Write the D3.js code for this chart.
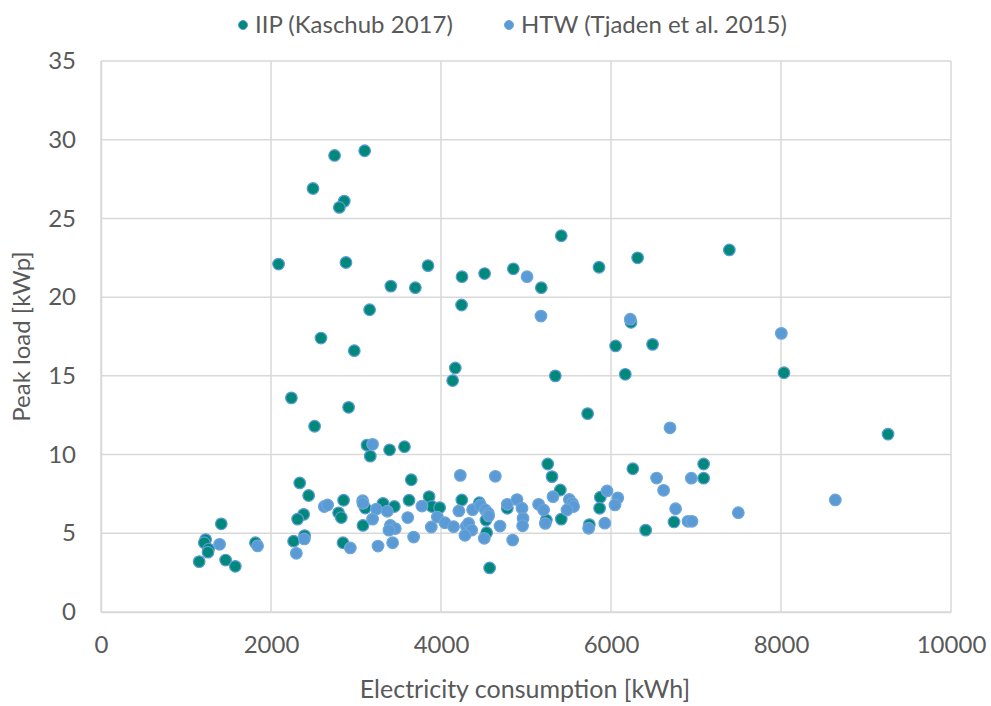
<!DOCTYPE html>
<html>
<head>
<meta charset="utf-8">
<script src="https://cdn.jsdelivr.net/npm/d3@7"></script>
<style>
  body { margin: 0; background: #fff; }
  svg text { font-family: Lato, "Open Sans", sans-serif; fill: #595959; }
</style>
</head>
<body>
<svg id="chart" width="991" height="706"></svg>
<script>
// series names
const seriesNames = ["IIP (Kaschub 2017)", "HTW (Tjaden et al. 2015)"];

// IIP (Kaschub 2017): [kWh, kWp]
const iipPoints = [
  [2748, 29.0], [3102, 29.3], [2494, 26.9], [2862, 26.1], [2804, 25.7], [2089, 22.1],
  [2882, 22.2], [3410, 20.7], [3160, 19.2], [2588, 17.4], [2980, 16.6],
  [3698, 20.6], [3847, 22.0], [4247, 21.3], [4513, 21.5], [4851, 21.8], [5180, 20.6],
  [5415, 23.9], [5859, 21.9], [6313, 22.5], [4242, 19.5], [6235, 18.4], [6054, 16.9],
  [6489, 17.0], [4168, 15.5], [4137, 14.7], [5345, 15.0], [6168, 15.1], [5725, 12.6],
  [7392, 23.0], [8035, 15.2], [9259, 11.3], [7090, 9.4], [7090, 8.5],
  [2240, 13.6], [2913, 13.0], [2513, 11.8], [3130, 10.6], [3168, 9.9], [3395, 10.3], [3570, 10.5],
  [1415, 5.6], [1231, 4.6], [1215, 4.4], [1266, 4.0], [1259, 3.8], [1155, 3.2], [1466, 3.3],
  [1580, 2.9], [1817, 4.4],
  [2338, 8.2], [2443, 7.4], [2384, 6.2], [2313, 5.9], [2854, 7.1], [2795, 6.3], [2827, 6.0],
  [3109, 6.6], [3318, 6.9], [3451, 6.7], [3082, 5.5], [3624, 7.1], [3650, 8.4], [2266, 4.5],
  [2395, 4.85], [2847, 4.4],
  [3860, 7.33], [3894, 6.7], [3984, 6.63], [4245, 7.12], [4451, 6.94], [4529, 5.84],
  [4537, 5.04], [4780, 6.59], [4572, 2.8],
  [5256, 9.4], [5306, 8.6], [5404, 7.75], [5239, 5.84], [5415, 5.9], [5745, 5.55],
  [5874, 7.29], [5866, 6.59], [6257, 9.1], [6408, 5.2], [6741, 5.72]
];

// HTW (Tjaden et al. 2015): [kWh, kWp]
const htwPoints = [
  [5012, 21.3], [5176, 18.8], [6227, 18.6], [8004, 17.7], [6694, 11.7], [3195, 10.65],
  [1395, 4.3], [1842, 4.2],
  [2627, 6.7], [2666, 6.8], [3078, 7.07], [3082, 6.9], [3239, 6.54], [3368, 6.4], [3195, 5.9],
  [3404, 5.5], [3462, 5.3], [3388, 5.2], [3609, 6.0], [2392, 4.64], [2298, 3.73], [2933, 4.07],
  [3259, 4.19], [3431, 4.4], [3678, 4.76],
  [3776, 6.73], [3886, 5.4], [3957, 6.03], [4046, 5.67], [4148, 5.42], [4227, 8.68], [4639, 8.62],
  [4210, 6.42], [4298, 5.45], [4325, 5.63], [4360, 5.2], [4282, 4.87], [4372, 6.5], [4462, 6.8],
  [4521, 6.48], [4556, 6.27], [4560, 6.1], [4509, 4.68], [4694, 5.46], [4780, 6.84], [4894, 7.14],
  [4953, 6.59], [4965, 5.95], [4960, 5.48], [4843, 4.57],
  [5148, 6.84], [5207, 6.48], [5227, 5.63], [5318, 7.33], [5510, 7.15], [5545, 6.9], [5560, 6.7],
  [5482, 6.48], [5737, 5.32], [5953, 7.69], [5927, 5.64], [6080, 7.25], [6047, 6.8],
  [6536, 8.51], [6619, 7.73], [6945, 8.5], [6760, 6.56], [6906, 5.76], [6953, 5.76],
  [7498, 6.31], [8639, 7.12]
];

const xTicks = [0, 2000, 4000, 6000, 8000, 10000];
const yTicks = [0, 5, 10, 15, 20, 25, 30, 35];

const xTitle = "Electricity consumption [kWh]";
const yTitle = "Peak load [kWp]";

const colors = { iip: "#00897b", htw: "#5b9bd5" };

const svg = d3.select("#chart");
const plot = { left: 101, right: 951, top: 61, bottom: 612 };

const x = d3.scaleLinear().domain([0, 10000]).range([plot.left, plot.right]);
const y = d3.scaleLinear().domain([0, 35]).range([plot.bottom, plot.top]);

// grid
const grid = svg.append("g");
grid.selectAll(".hg").data(yTicks).enter().append("line")
  .attr("x1", plot.left).attr("x2", plot.right)
  .attr("y1", d => y(d)).attr("y2", d => y(d))
  .attr("stroke", "#d9d9d9").attr("stroke-width", 1.5);
grid.selectAll(".vg").data(xTicks).enter().append("line")
  .attr("x1", d => x(d)).attr("x2", d => x(d))
  .attr("y1", plot.top).attr("y2", plot.bottom)
  .attr("stroke", "#d9d9d9").attr("stroke-width", 1.5);

// axes (labels only, lines come from grid)
const xAxis = d3.axisBottom(x).tickValues(xTicks).tickFormat(d3.format("d")).tickSize(0).tickPadding(24);
const yAxis = d3.axisLeft(y).tickValues(yTicks).tickSize(0).tickPadding(25);

svg.append("g").attr("transform", `translate(0,${plot.bottom})`).call(xAxis)
  .call(g => g.select(".domain").attr("stroke", "#d9d9d9").attr("stroke-width", 1.5))
  .selectAll("text").style("font-size", "24px").attr("fill", "#595959");
svg.append("g").attr("transform", `translate(${plot.left},0)`).call(yAxis)
  .call(g => g.select(".domain").attr("stroke", "#d9d9d9").attr("stroke-width", 1.5))
  .selectAll("text").style("font-size", "24px").attr("fill", "#595959");

// points
svg.append("g").selectAll("circle").data(iipPoints).enter().append("circle")
  .attr("cx", d => x(d[0])).attr("cy", d => y(d[1])).attr("r", 5.8)
  .attr("fill", colors.iip).attr("stroke", colors.htw).attr("stroke-width", 1.2);
svg.append("g").selectAll("circle").data(htwPoints).enter().append("circle")
  .attr("cx", d => x(d[0])).attr("cy", d => y(d[1])).attr("r", 5.8)
  .attr("fill", colors.htw).attr("stroke", "#6ea6da").attr("stroke-width", 1.2);

// axis titles
svg.append("text").attr("x", 525).attr("y", 698)
  .attr("text-anchor", "middle").style("font-size", "25px").text(xTitle);
svg.append("text").attr("transform", `translate(30,${(plot.top + plot.bottom) / 2}) rotate(-90)`)
  .attr("text-anchor", "middle").style("font-size", "24px").text(yTitle);

// legend
const legend = svg.append("g");
const legendItems = [
  { name: seriesNames[0], fill: colors.iip, stroke: colors.htw, cx: 243 },
  { name: seriesNames[1], fill: colors.htw, stroke: "#6ea6da", cx: 509 }
];
legendItems.forEach(it => {
  legend.append("circle").attr("cx", it.cx).attr("cy", 25).attr("r", 4.5)
    .attr("fill", it.fill).attr("stroke", it.stroke).attr("stroke-width", 1);
  legend.append("text").attr("x", it.cx + 12).attr("y", 33)
    .style("font-size", "24px").text(it.name);
});
</script>
</body>
</html>
